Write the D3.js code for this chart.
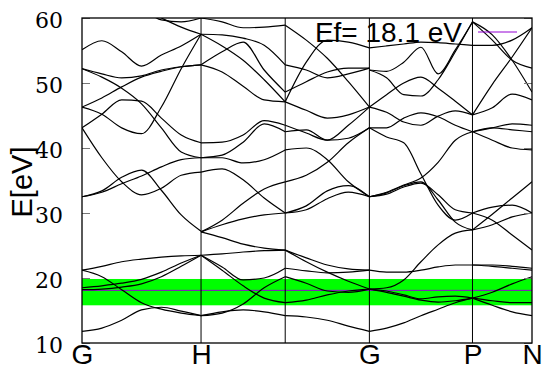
<!DOCTYPE html>
<html>
<head>
<meta charset="utf-8">
<script src="https://cdn.jsdelivr.net/npm/d3@7"></script>
<style>
  html, body { margin: 0; padding: 0; background: #fff; }
  svg { display: block; }
</style>
</head>
<body>
<svg id="chart" width="542" height="367"></svg>
<script>
// High-symmetry points along the BCC path (units of 2*pi/a)
const kNodes  = [0, 1, 1.7071, 2.4142, 3.2802, 3.7802];
const kLabels = ["G", "H", "", "G", "P", "N"];
const yTicks  = [10, 20, 30, 40, 50, 60];
const fermiEnergy = 18.1;
const windowRange = [15.8, 19.85];

// k sample grids for each segment of the path
const kGH = [0, 0.1667, 0.3333, 0.5, 0.6667, 0.8333, 1];
const kHN = [1, 1.1768, 1.3536, 1.5303, 1.7071];
const kNG = [1.7071, 1.8839, 2.0607, 2.2374, 2.4142];
const kGP = [2.4142, 2.5585, 2.7029, 2.8472, 2.9915, 3.1359, 3.2802];
const kPN = [3.2802, 3.4469, 3.6135, 3.7802];

// band energies (eV) at the sample points of each segment
const bandsGH = [
  [11.8, 12.3, 13.5, 15.1, 15.5, 14.9, 14.2],
  [21.2, 20.2, 18.2, 16.2, 15.2, 14.6, 14.2],
  [21.2, 21.8, 22.5, 22.9, 23.2, 23.4, 23.5],
  [18.5, 18.8, 19.2, 19.8, 20.9, 22.3, 23.5],
  [18.2, 18.3, 18.6, 19.1, 20.2, 21.8, 23.5],
  [32.5, 33.4, 35.5, 36.6, 33.5, 29.7, 27.2],
  [32.5, 33.2, 34.5, 35.7, 37.1, 38.2, 38.5],
  [43.1, 38.5, 34.8, 32.8, 33.8, 35.8, 36.3],
  [43.1, 45.2, 47.4, 47.2, 44.6, 42.0, 40.8],
  [46.3, 45.2, 43.1, 42.2, 46.3, 52.2, 57.5],
  [52.2, 50.9, 49.2, 46.8, 43.1, 39.4, 38.5],
  [52.2, 51.4, 50.8, 51.1, 52.0, 52.5, 52.8],
  [46.3, 47.7, 49.4, 50.9, 51.8, 52.5, 52.8],
  [55.1, 56.5, 54.8, 52.6, 54.3, 55.7, 57.5],
  [65.8, 64.3, 62.8, 61.5, 60.0, 58.6, 57.5],
  [65.8, 64.6, 63.1, 61.5, 59.7, 59.4, 60.0]
];
const bandsHN = [
  [14.2, 14.8, 15.1, 14.8, 14.2],
  [14.2, 14.6, 16.0, 18.5, 20.2],
  [23.5, 21.2, 18.8, 16.9, 16.2],
  [23.5, 21.7, 19.7, 20.0, 21.5],
  [23.5, 23.7, 24.0, 24.2, 24.3],
  [27.1, 28.2, 29.1, 29.7, 30.0],
  [27.1, 28.9, 31.5, 33.7, 34.8],
  [27.1, 26.2, 25.2, 24.6, 24.3],
  [36.3, 36.8, 35.1, 32.3, 30.0],
  [38.5, 38.5, 37.7, 38.2, 39.7],
  [38.5, 38.9, 40.9, 43.7, 42.5],
  [40.8, 40.9, 42.0, 44.2, 43.5],
  [57.5, 57.4, 56.9, 55.8, 52.8],
  [57.5, 55.7, 53.5, 50.5, 47.1],
  [60.0, 59.4, 58.5, 58.6, 58.9],
  [52.8, 54.8, 56.3, 52.0, 48.6],
  [52.8, 51.7, 49.5, 47.4, 47.1]
];
const bandsNG = [
  [14.2, 14.0, 13.5, 12.6, 11.8],
  [16.2, 16.6, 17.4, 18.0, 18.3],
  [20.2, 19.2, 18.0, 17.8, 18.3],
  [21.5, 21.1, 20.8, 20.9, 21.2],
  [24.3, 22.5, 20.9, 19.5, 18.3],
  [24.3, 23.1, 22.0, 21.4, 21.2],
  [30.0, 30.5, 32.2, 33.2, 32.5],
  [30.0, 31.1, 33.4, 34.2, 32.5],
  [39.7, 40.0, 38.2, 34.8, 32.5],
  [34.8, 35.8, 37.8, 40.8, 43.1],
  [42.5, 42.8, 41.2, 41.5, 43.1],
  [43.5, 42.3, 41.2, 43.5, 46.3],
  [47.1, 45.8, 44.6, 45.1, 46.3],
  [48.6, 50.2, 51.7, 52.3, 52.3],
  [52.8, 52.0, 50.8, 51.4, 52.3],
  [47.1, 53.2, 56.6, 56.3, 55.4],
  [58.9, 56.6, 53.8, 50.2, 46.3]
];
const bandsGP = [
  [11.8, 12.3, 13.1, 14.2, 15.2, 16.2, 16.9],
  [18.3, 17.8, 17.2, 16.6, 16.3, 16.5, 16.9],
  [18.3, 18.0, 17.4, 16.8, 17.1, 17.2, 16.9],
  [18.3, 18.5, 19.7, 22.5, 25.1, 26.9, 27.4],
  [21.2, 20.9, 20.9, 21.2, 21.7, 22.0, 22.0],
  [32.5, 33.1, 34.2, 34.8, 32.0, 28.6, 27.4],
  [32.5, 32.9, 34.0, 34.6, 32.8, 30.5, 30.0],
  [43.1, 41.7, 40.8, 36.0, 31.2, 28.9, 30.0],
  [43.1, 43.1, 44.6, 45.4, 44.8, 43.5, 42.5],
  [32.5, 33.2, 34.3, 35.4, 37.8, 41.2, 42.5],
  [46.3, 45.5, 44.0, 43.5, 44.9, 45.7, 45.1],
  [46.3, 48.2, 50.0, 50.9, 49.2, 47.2, 45.1],
  [52.0, 50.8, 48.2, 48.0, 50.5, 54.8, 59.4],
  [52.0, 51.8, 53.2, 55.5, 51.4, 55.1, 59.4],
  [55.4, 55.7, 56.0, 56.3, 56.2, 56.0, 55.8]
];
const bandsPN = [
  [16.9, 17.8, 19.1, 20.2],
  [16.9, 16.5, 16.2, 16.2],
  [16.9, 15.8, 14.8, 14.2],
  [22.0, 22.0, 21.8, 21.5],
  [22.0, 21.8, 21.5, 21.2],
  [27.4, 29.8, 32.3, 34.8],
  [30.0, 30.9, 31.2, 30.0],
  [30.0, 28.9, 26.6, 24.3],
  [27.4, 28.2, 29.4, 30.0],
  [42.5, 41.2, 40.0, 39.7],
  [42.5, 43.1, 43.7, 43.5],
  [42.5, 43.1, 42.8, 42.5],
  [45.1, 46.2, 48.3, 47.4],
  [55.8, 55.8, 56.6, 58.5],
  [59.4, 56.6, 53.5, 52.3],
  [45.1, 49.8, 54.0, 58.5],
  [59.4, 57.4, 53.5, 48.6]
];

const segments = [
  { k: kGH, bands: bandsGH },
  { k: kHN, bands: bandsHN },
  { k: kNG, bands: bandsNG },
  { k: kGP, bands: bandsGP },
  { k: kPN, bands: bandsPN }
];

const svg = d3.select("#chart");
const plotLeft = 82, plotRight = 532, plotTop = 18, plotBottom = 343;

const x = d3.scaleLinear().domain([kNodes[0], kNodes[kNodes.length - 1]]).range([plotLeft, plotRight]);
const y = d3.scaleLinear().domain([10, 60]).range([plotBottom, plotTop]);

svg.append("defs").append("clipPath").attr("id", "plotClip")
  .append("rect").attr("x", plotLeft).attr("y", plotTop)
  .attr("width", plotRight - plotLeft).attr("height", plotBottom - plotTop);

const plot = svg.append("g").attr("clip-path", "url(#plotClip)");

// energy window around the Fermi level
plot.append("rect")
  .attr("x", plotLeft).attr("width", plotRight - plotLeft)
  .attr("y", y(windowRange[1]))
  .attr("height", y(windowRange[0]) - y(windowRange[1]))
  .attr("fill", "#00ff00");

// Fermi level
plot.append("line")
  .attr("x1", plotLeft).attr("x2", plotRight)
  .attr("y1", y(fermiEnergy)).attr("y2", y(fermiEnergy))
  .attr("stroke", "#9400d3").attr("stroke-width", 1);

// bands
const line = d3.line()
  .x(d => x(d[0])).y(d => y(d[1]))
  .curve(d3.curveMonotoneX);

segments.forEach(seg => {
  plot.selectAll(null)
    .data(seg.bands)
    .enter().append("path")
    .attr("d", b => line(b.map((e, i) => [seg.k[i], e])))
    .attr("fill", "none")
    .attr("stroke", "#000")
    .attr("stroke-width", 1.2);
});

// vertical lines at the high-symmetry points
svg.append("g").selectAll("line")
  .data(kNodes.slice(1, -1))
  .enter().append("line")
  .attr("x1", d => x(d)).attr("x2", d => x(d))
  .attr("y1", plotTop).attr("y2", plotBottom)
  .attr("stroke", "#000").attr("stroke-width", 1);

// left axis with inward ticks
const yAxis = svg.append("g")
  .attr("transform", `translate(${plotLeft},0)`)
  .call(d3.axisLeft(y).tickValues(yTicks).tickSizeInner(-8).tickSizeOuter(0).tickPadding(19));
yAxis.select(".domain").remove();
yAxis.selectAll("line").attr("stroke", "#777");
yAxis.selectAll("text")
  .attr("font-family", "'DejaVu Serif', serif")
  .attr("font-size", 22)
  .attr("dy", "0.42em")
  .attr("fill", "#000");

// mirrored ticks on the right
const yAxisR = svg.append("g")
  .attr("transform", `translate(${plotRight},0)`)
  .call(d3.axisRight(y).tickValues(yTicks).tickSizeInner(-8).tickSizeOuter(0).tickFormat(""));
yAxisR.select(".domain").remove();
yAxisR.selectAll("line").attr("stroke", "#777");

// k-point labels
const xAxis = svg.append("g")
  .attr("transform", `translate(0,${plotBottom})`)
  .call(d3.axisBottom(x).tickValues(kNodes).tickFormat((d, i) => kLabels[i]).tickSize(0).tickPadding(1));
xAxis.select(".domain").remove();
xAxis.selectAll("text")
  .attr("font-family", "'Liberation Sans', Arial, sans-serif")
  .attr("font-size", 28)
  .attr("fill", "#000");

// frame
svg.append("rect")
  .attr("x", plotLeft).attr("y", plotTop)
  .attr("width", plotRight - plotLeft).attr("height", plotBottom - plotTop)
  .attr("fill", "none").attr("stroke", "#000").attr("stroke-width", 1.3);

// axis title
svg.append("text")
  .attr("transform", "translate(32,182) rotate(-90)")
  .attr("text-anchor", "middle")
  .attr("font-family", "'Liberation Sans', Arial, sans-serif")
  .attr("font-size", 29)
  .text("E[eV]");

// key
svg.append("text")
  .attr("x", 462).attr("y", 42)
  .attr("text-anchor", "end")
  .attr("font-family", "'Liberation Sans', Arial, sans-serif")
  .attr("font-size", 28)
  .text(`Ef= ${fermiEnergy} eV`);
svg.append("line")
  .attr("x1", 478).attr("x2", 517)
  .attr("y1", 32).attr("y2", 32)
  .attr("stroke", "#9400d3").attr("stroke-width", 1);
</script>
</body>
</html>
